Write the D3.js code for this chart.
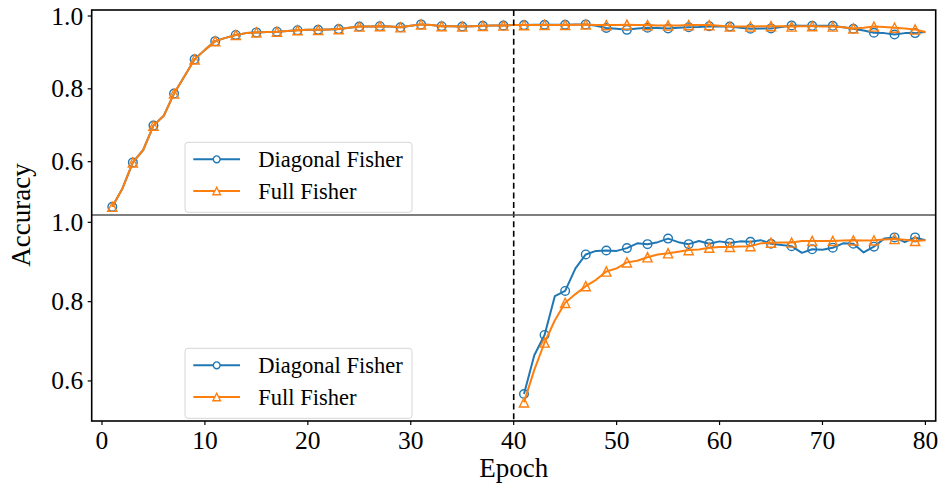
<!DOCTYPE html>
<html>
<head>
<meta charset="utf-8">
<script src="https://cdn.jsdelivr.net/npm/d3@7/dist/d3.min.js"></script>
<style>
  html, body { margin: 0; padding: 0; background: #fff; }
  svg text { font-family: "Liberation Serif", "Times New Roman", serif; fill: #000; }
</style>
</head>
<body>
<svg id="chart" width="943" height="487"></svg>
<script>
// Task-1 accuracy (epochs 1-80) and task-2 accuracy (epochs 41-80)
const epochsTop = d3.range(1, 81);
const topDiagonal = [
  0.476, 0.527, 0.598, 0.632, 0.699, 0.726, 0.787, 0.834, 0.881, 0.907,
  0.931, 0.940, 0.948, 0.953, 0.955, 0.956, 0.957, 0.959, 0.961, 0.962,
  0.962, 0.963, 0.964, 0.968, 0.971, 0.971, 0.972, 0.971, 0.969, 0.973,
  0.977, 0.975, 0.972, 0.972, 0.971, 0.972, 0.973, 0.974, 0.974, 0.975,
  0.975, 0.976, 0.976, 0.976, 0.976, 0.977, 0.977, 0.973, 0.967, 0.965,
  0.962, 0.966, 0.968, 0.967, 0.966, 0.968, 0.969, 0.970, 0.972, 0.971,
  0.971, 0.968, 0.965, 0.966, 0.966, 0.970, 0.974, 0.973, 0.973, 0.973,
  0.973, 0.969, 0.965, 0.960, 0.954, 0.953, 0.949, 0.953, 0.953, 0.956
];
const topFull = [
  0.476, 0.527, 0.598, 0.632, 0.699, 0.726, 0.787, 0.834, 0.881, 0.907,
  0.931, 0.940, 0.948, 0.953, 0.955, 0.956, 0.957, 0.959, 0.961, 0.962,
  0.962, 0.963, 0.964, 0.968, 0.971, 0.971, 0.972, 0.971, 0.969, 0.973,
  0.977, 0.975, 0.972, 0.972, 0.971, 0.972, 0.973, 0.974, 0.974, 0.975,
  0.975, 0.975, 0.9755, 0.975, 0.9755, 0.976, 0.977, 0.975, 0.975, 0.975,
  0.976, 0.975, 0.975, 0.974, 0.974, 0.974, 0.975, 0.975, 0.975, 0.973,
  0.971, 0.971, 0.971, 0.972, 0.972, 0.972, 0.971, 0.972, 0.972, 0.971,
  0.971, 0.969, 0.966, 0.968, 0.971, 0.970, 0.968, 0.966, 0.963, 0.956
];
const epochsBottom = d3.range(41, 81);
const bottomDiagonal = [
  0.567, 0.665, 0.716, 0.814, 0.827, 0.884, 0.919, 0.928, 0.929, 0.928,
  0.935, 0.947, 0.945, 0.950, 0.959, 0.950, 0.945, 0.953, 0.946, 0.952,
  0.948, 0.952, 0.951, 0.955, 0.946, 0.943, 0.940, 0.923, 0.932, 0.931,
  0.936, 0.947, 0.946, 0.924, 0.9385, 0.959, 0.962, 0.950, 0.962, 0.955
];
const bottomFull = [
  0.546, 0.628, 0.697, 0.753, 0.797, 0.819, 0.839, 0.855, 0.876, 0.884,
  0.899, 0.903, 0.912, 0.919, 0.922, 0.926, 0.930, 0.9315, 0.936, 0.938,
  0.938, 0.939, 0.940, 0.947, 0.9486, 0.949, 0.949, 0.953, 0.953, 0.953,
  0.953, 0.954, 0.9546, 0.954, 0.9546, 0.957, 0.958, 0.956, 0.953, 0.955
];
const xTicks = [0, 10, 20, 30, 40, 50, 60, 70, 80];
const yTicks = [0.6, 0.8, 1.0];
const seriesNames = ["Diagonal Fisher", "Full Fisher"];
const taskSwitchEpoch = 40;

const BLUE = "#1f77b4", ORANGE = "#ff7f0e";
const svg = d3.select("#chart");

const L = 91.7, R = 935.7, T = 10, MID = 215, B = 421;
const x = d3.scaleLinear().domain([-1, 81]).range([L, R]);
const yTop = d3.scaleLinear().domain([0.4535, 1.0165]).range([MID, T]);
const yBot = d3.scaleLinear().domain([0.499, 1.0185]).range([B, MID]);

const defs = svg.append("defs");
defs.append("clipPath").attr("id", "clipTop").append("rect")
  .attr("x", L).attr("y", T).attr("width", R - L).attr("height", MID - T);
defs.append("clipPath").attr("id", "clipBot").append("rect")
  .attr("x", L).attr("y", MID).attr("width", R - L).attr("height", B - MID);

function markerPath(type) {
  if (type === "circle") return d3.symbol(d3.symbolCircle, Math.PI * 4.3 * 4.3)();
  // upward triangle, centred on the data point
  const s = 4.6;
  return `M0,${-s}L${s},${s}L${-s},${s}Z`;
}

function drawSeries(g, xs, ys, yScale, color, marker) {
  const pts = xs.map((e, i) => [e, ys[i]]);
  g.append("path")
    .datum(pts)
    .attr("fill", "none")
    .attr("stroke", color)
    .attr("stroke-width", 2)
    .attr("stroke-linejoin", "round")
    .attr("d", d3.line().x(d => x(d[0])).y(d => yScale(d[1])));
  g.selectAll(null)
    .data(pts.filter(d => d[0] % 2 === 1))
    .join("path")
    .attr("d", markerPath(marker))
    .attr("transform", d => `translate(${x(d[0])},${yScale(d[1])})`)
    .attr("fill", "none")
    .attr("stroke", color)
    .attr("stroke-width", 1.4);
}

function drawPanel(yScale, clipId, diag, full, xs, yTop0, yBot0) {
  const g = svg.append("g").attr("clip-path", `url(#${clipId})`);
  drawSeries(g, xs, diag, yScale, BLUE, "circle");
  drawSeries(g, xs, full, yScale, ORANGE, "triangle");

  // y axis ticks and labels
  const ax = svg.append("g");
  yTicks.forEach(t => {
    ax.append("line").attr("x1", L - 4).attr("x2", L)
      .attr("y1", yScale(t)).attr("y2", yScale(t))
      .attr("stroke", "#000").attr("stroke-width", 1.2);
    ax.append("text").attr("x", L - 8.5).attr("y", yScale(t))
      .attr("text-anchor", "end").attr("dominant-baseline", "central")
      .attr("font-size", 25.5).text(t.toFixed(1));
  });
}

drawPanel(yTop, "clipTop", topDiagonal, topFull, epochsTop);
drawPanel(yBot, "clipBot", bottomDiagonal, bottomFull, epochsBottom);

// task switch marker spanning both panels
svg.append("line")
  .attr("x1", x(taskSwitchEpoch)).attr("x2", x(taskSwitchEpoch))
  .attr("y1", T).attr("y2", B)
  .attr("stroke", "#000").attr("stroke-width", 1.6)
  .attr("stroke-dasharray", "6,3.6");

// x axis on the lower panel
xTicks.forEach(t => {
  svg.append("line").attr("x1", x(t)).attr("x2", x(t))
    .attr("y1", B).attr("y2", B + 4)
    .attr("stroke", "#000").attr("stroke-width", 1.2);
  svg.append("text").attr("x", x(t)).attr("y", B + 28)
    .attr("text-anchor", "middle").attr("font-size", 25.5).text(t);
});

// frames
svg.append("line").attr("x1", L).attr("x2", R).attr("y1", MID).attr("y2", MID)
  .attr("stroke", "#555").attr("stroke-width", 1.4);
svg.append("rect").attr("x", L).attr("y", T).attr("width", R - L).attr("height", B - T)
  .attr("fill", "none").attr("stroke", "#000").attr("stroke-width", 1.6);

// axis titles
svg.append("text").attr("x", x(40)).attr("y", 477)
  .attr("text-anchor", "middle").attr("font-size", 27).text("Epoch");
svg.append("text")
  .attr("transform", `translate(30,${MID}) rotate(-90)`)
  .attr("text-anchor", "middle").attr("font-size", 27).text("Accuracy");

// legends
function legend(yBottom) {
  const w = 227, h = 70, lx = 185, ly = yBottom - h;
  const g = svg.append("g");
  g.append("rect").attr("x", lx).attr("y", ly).attr("width", w).attr("height", h)
    .attr("rx", 3).attr("fill", "#fff").attr("fill-opacity", 0.8)
    .attr("stroke", "#d6d6d6").attr("stroke-width", 1);
  const rows = [
    { name: seriesNames[0], color: BLUE, marker: "circle", dy: 17 },
    { name: seriesNames[1], color: ORANGE, marker: "triangle", dy: 48.7 }
  ];
  rows.forEach(r => {
    const cy = ly + r.dy;
    g.append("line").attr("x1", lx + 8.3).attr("x2", lx + 55)
      .attr("y1", cy).attr("y2", cy).attr("stroke", r.color).attr("stroke-width", 2);
    g.append("path").attr("d", r.marker === "circle"
        ? d3.symbol(d3.symbolCircle, Math.PI * 3.4 * 3.4)()
        : "M0,-3.8L3.8,3.8L-3.8,3.8Z")
      .attr("transform", `translate(${lx + 31.7},${cy})`)
      .attr("fill", "#fff").attr("stroke", r.color).attr("stroke-width", 1.4);
    g.append("text").attr("x", lx + 73.3).attr("y", cy)
      .attr("dominant-baseline", "central").attr("font-size", 22.5).text(r.name);
  });
}
legend(MID - 2.7);
legend(B - 2.7);
</script>
</body>
</html>
